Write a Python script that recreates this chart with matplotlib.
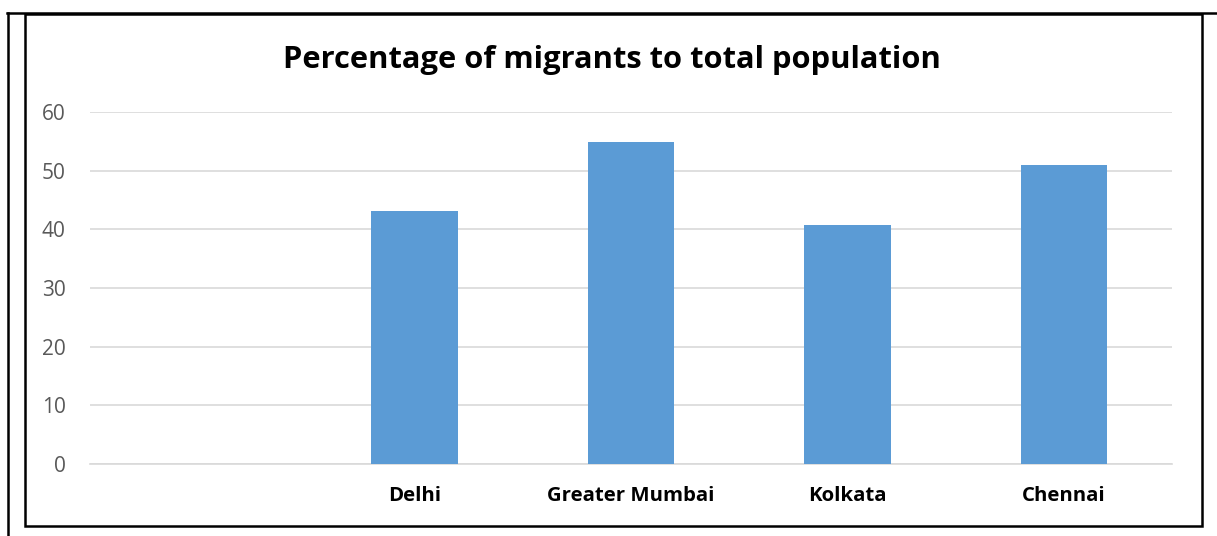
import matplotlib
matplotlib.use("Agg")
from matplotlib import pyplot as plt
from matplotlib.lines import Line2D
from matplotlib.patches import Rectangle
import numpy as np

# data (first category is blank in the original)
cities = ["", "Delhi", "Greater Mumbai", "Kolkata", "Chennai"]
migrant_pct = [np.nan, 43.1, 54.9, 40.7, 51.0]
yticks = [0, 10, 20, 30, 40, 50, 60]

W, H = 1217, 536
plt.rcParams['font.family'] = ['Open Sans', 'DejaVu Sans']

fig = plt.figure(figsize=(W / 100, H / 100), dpi=100)
fig.patch.set_facecolor("white")

# plot area in pixel terms of the reference
left, right, top, bottom = 90, 1172, 112, 464
ax = fig.add_axes([left / W, 1 - bottom / H, (right - left) / W, (bottom - top) / H])

x = np.arange(len(cities))
ax.bar(x, migrant_pct, width=0.4, color="#5B9BD5", zorder=3)

ax.set_xlim(-0.5, len(cities) - 0.5)
ax.set_ylim(0, 60)
ax.set_yticks(yticks)
ax.set_xticks(x)
ax.set_xticklabels(cities, fontsize=14.7, fontweight="bold", color="black")
ax.tick_params(axis="y", length=0, pad=17.5, labelsize=15, labelcolor="#595959")
ax.tick_params(axis="x", length=0, pad=15.5)
ax.grid(axis="y", color="#D9D9D9", linewidth=1.2, zorder=0)
for s in ["top", "right", "left"]:
    ax.spines[s].set_visible(False)
ax.spines["bottom"].set_color("#D9D9D9")
ax.spines["bottom"].set_linewidth(1.2)

fig.text(612 / W, 1 - 60 / H, "Percentage of migrants to total population",
         ha="center", va="center", fontsize=22.2, fontweight="bold")

# surrounding frame lines
def px(xp, yp):
    return xp / W, 1 - yp / H

fig.add_artist(Rectangle(px(25, 526), (1202 - 25) / W, (526 - 14) / H,
                         transform=fig.transFigure, fill=False, edgecolor="black", linewidth=1.8))
fig.add_artist(Line2D([7.5 / W, 7.5 / W], [1 - 13 / H, 0], transform=fig.transFigure,
                      color="black", linewidth=1.8))
fig.add_artist(Line2D([7 / W, 1], [1 - 13 / H, 1 - 13 / H], transform=fig.transFigure,
                      color="black", linewidth=1.8))

fig.savefig("out.png", dpi=100)
